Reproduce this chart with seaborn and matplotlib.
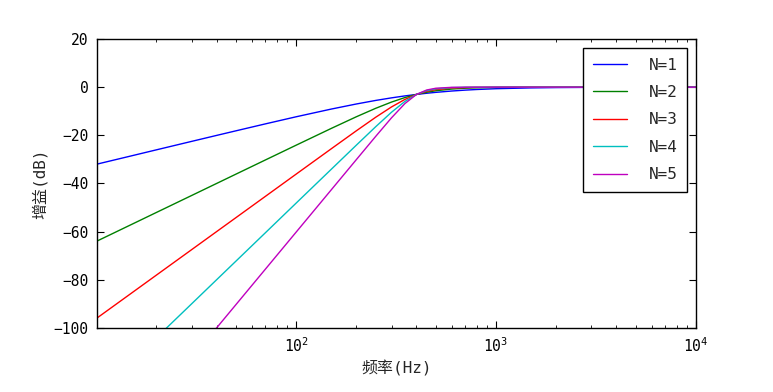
import pandas as pd
import matplotlib.pyplot as plt
import seaborn as sns

# frequency samples (Hz) and gain (dB), one list per filter order
freq = [10, 15, 20, 30, 40, 50, 70, 100, 150, 200, 250, 300, 350, 400,
        450, 500, 600, 700, 800, 1000, 1500, 2000, 3000, 5000, 10000]

gain_n1 = [-32.04, -28.53, -26.03, -22.52, -20.04, -18.13, -15.27, -12.30, -9.09, -6.99,
           -5.51, -4.44, -3.63, -3.01, -2.53, -2.15, -1.60, -1.23, -0.97, -0.64,
           -0.30, -0.17, -0.08, -0.03, -0.01]
gain_n2 = [-64.08, -57.04, -52.04, -45.00, -40.00, -36.12, -30.28, -24.10, -17.12, -12.30,
           -8.78, -6.19, -4.32, -3.01, -2.11, -1.49, -0.78, -0.44, -0.26, -0.11,
           -0.02, -0.01, 0.0, 0.0, 0.0]
gain_n3 = [-96.12, -85.56, -78.06, -67.50, -60.00, -54.19, -45.42, -36.12, -25.57, -18.13,
           -12.50, -8.21, -5.09, -3.01, -1.74, -1.01, -0.37, -0.15, -0.07, -0.02,
           0.0, 0.0, 0.0, 0.0, 0.0]
gain_n4 = [-128.16, -114.08, -104.08, -90.00, -80.00, -72.25, -60.56, -48.16, -34.08, -24.10,
           -16.43, -10.41, -5.92, -3.01, -1.43, -0.67, -0.17, -0.05, -0.02, 0.0,
           0.0, 0.0, 0.0, 0.0, 0.0]
gain_n5 = [-160.21, -142.60, -130.10, -112.49, -100.00, -90.31, -75.70, -60.21, -42.60, -30.11,
           -20.45, -12.73, -6.82, -3.01, -1.17, -0.44, -0.07, -0.02, 0.0, 0.0,
           0.0, 0.0, 0.0, 0.0, 0.0]

orders = ['N=1', 'N=2', 'N=3', 'N=4', 'N=5']
colors = ['#0000ff', '#008000', '#ff0000', '#00bfbf', '#bf00bf']

df = pd.DataFrame({'freq': freq, 'N=1': gain_n1, 'N=2': gain_n2, 'N=3': gain_n3,
                   'N=4': gain_n4, 'N=5': gain_n5})
long = df.melt(id_vars='freq', var_name='order', value_name='gain')

sns.set_theme(style="ticks")
plt.rcParams['font.family'] = ['DejaVu Sans Mono', 'Noto Sans CJK SC']
plt.rcParams['axes.unicode_minus'] = True

fig = plt.figure(figsize=(7.73, 3.92), dpi=100)
ax = fig.add_axes([0.1255, 0.1633, 0.7749, 0.7372])

sns.lineplot(data=long, x='freq', y='gain', hue='order', hue_order=orders,
             palette=colors, linewidth=1, ax=ax)

ax.set_xscale('log')
ax.set_xlim(10.1, 1e4)
ax.set_ylim(-100, 20)
ax.set_yticks(range(-100, 21, 20))

for s in ax.spines.values():
    s.set_color('black')
    s.set_linewidth(1)
ax.tick_params(which='both', direction='in', top=True, right=True, colors='black',
               labelsize=10.5, pad=6)
ax.tick_params(which='major', length=5, width=0.8)
ax.tick_params(which='minor', length=2.5, width=0.6)

ax.set_xlabel('频率(Hz)', fontsize=11.5)
ax.set_ylabel('增益(dB)', fontsize=11.5)

leg = ax.legend(loc='upper right', fontsize=11.5, frameon=True, fancybox=False,
                edgecolor='black', framealpha=1, borderaxespad=0.56,
                labelspacing=0.78, handlelength=2.15, handletextpad=1.35, borderpad=0.6)
leg.get_frame().set_linewidth(1)

fig.savefig('out.png', dpi=100)
